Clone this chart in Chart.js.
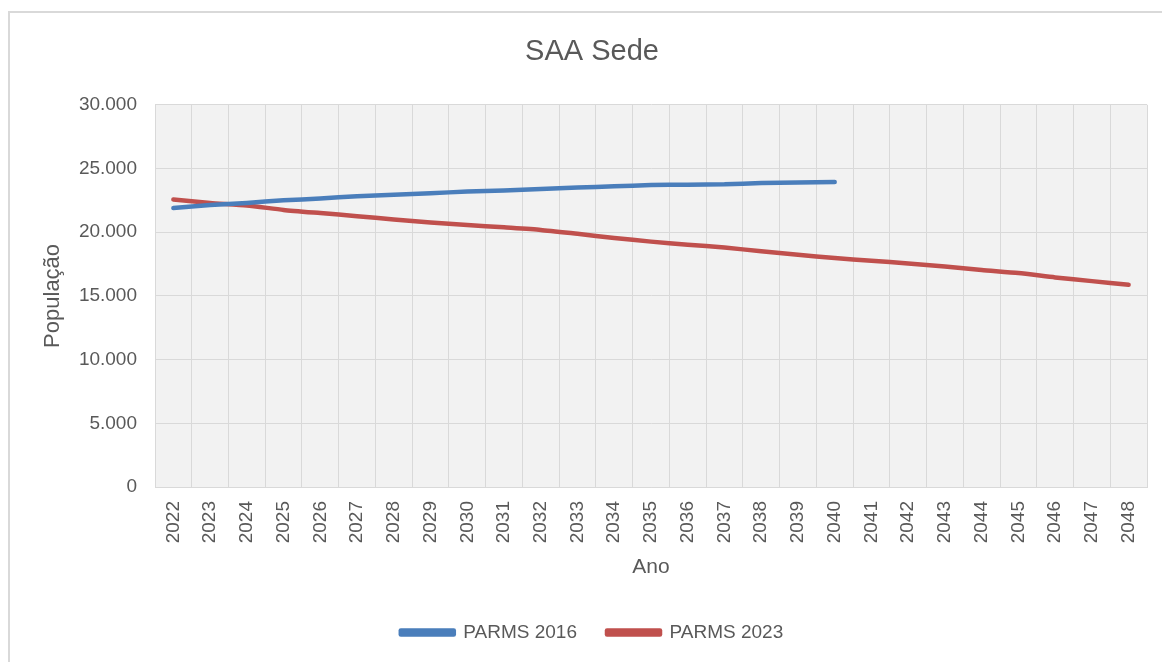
<!DOCTYPE html>
<html>
<head>
<meta charset="utf-8">
<script src="https://cdn.jsdelivr.net/npm/chart.js@4/dist/chart.umd.min.js"></script>
<style>
  html, body { margin: 0; padding: 0; background: #fff; }
  #wrap { width: 1162px; height: 662px; }
</style>
</head>
<body>
<div id="wrap"><canvas id="chart" width="1162" height="662"></canvas></div>
<script>
// --- data ---
const years = ['2022','2023','2024','2025','2026','2027','2028','2029','2030','2031','2032','2033','2034',
  '2035','2036','2037','2038','2039','2040','2041','2042','2043','2044','2045','2046','2047','2048'];
const parms2016 = [21900, 22130, 22300, 22500, 22650, 22830, 22940, 23050, 23200, 23280, 23400, 23500,
  23600, 23700, 23730, 23760, 23860, 23900, 23940];
const parms2023 = [22570, 22300, 22100, 21750, 21500, 21260, 21000, 20760, 20570, 20380, 20180, 19870,
  19550, 19260, 19020, 18800, 18500, 18230, 17970, 17760, 17550, 17310, 17030, 16790, 16450, 16160, 15870];
const yTicks = [0, 5000, 10000, 15000, 20000, 25000, 30000];

const txt = '#595959';
const sans = '"Liberation Sans", Arial, sans-serif';
const fmt = v => String(v).replace(/\B(?=(\d{3})+(?!\d))/g, '.');

// white page, light frame and grey plot area
const backdrop = {
    id: 'backdrop',
    beforeDraw(chart) {
        const { ctx, chartArea: a } = chart;
        ctx.save();
        ctx.fillStyle = '#fff';
        ctx.fillRect(0, 0, chart.width, chart.height);
        ctx.strokeStyle = '#d9d9d9';
        ctx.lineWidth = 2;
        ctx.strokeRect(9, 12, chart.width + 20, chart.height + 20);
        ctx.fillStyle = '#f2f2f2';
        ctx.fillRect(a.left, a.top, a.right - a.left, a.bottom - a.top);
        ctx.restore();
    }
};

new Chart(document.getElementById('chart'), {
    type: 'line',
    data: {
        labels: years,
        datasets: [
            { label: 'PARMS 2016', data: parms2016, borderColor: '#4a7ebb', backgroundColor: '#4a7ebb' },
            { label: 'PARMS 2023', data: parms2023, borderColor: '#c0504d', backgroundColor: '#c0504d' }
        ]
    },
    options: {
        responsive: false,
        animation: false,
        layout: { padding: { left: 37, right: 15, top: 12, bottom: 10 } },
        elements: {
            line: { borderWidth: 4.5, tension: 0.2, borderCapStyle: 'round', borderJoinStyle: 'round' },
            point: { radius: 0, hoverRadius: 0 }
        },
        plugins: {
            title: {
                display: true,
                text: 'SAA Sede',
                color: txt,
                font: { family: sans, size: 29, weight: 'normal' },
                padding: { top: 23, bottom: 35 }
            },
            legend: {
                position: 'bottom',
                labels: {
                    color: txt,
                    font: { family: sans, size: 19 },
                    boxWidth: 53,
                    boxHeight: 4,
                    padding: 30
                }
            },
            tooltip: { enabled: false }
        },
        scales: {
            x: {
                offset: true,
                grid: { offset: true, color: '#d9d9d9', drawTicks: false },
                border: { color: '#d9d9d9' },
                ticks: {
                    color: txt,
                    font: { family: sans, size: 19 },
                    minRotation: 90,
                    maxRotation: 90,
                    padding: 14,
                    autoSkip: false
                },
                title: {
                    display: true,
                    text: 'Ano',
                    color: txt,
                    font: { family: sans, size: 21 },
                    padding: { top: 0, bottom: 13 }
                },
                afterFit(s) {
                    s.height = 106;
                    s.paddingLeft = 0;
                    s.paddingRight = 0;
                }
            },
            y: {
                min: 0,
                max: 30000,
                afterBuildTicks(s) { s.ticks = yTicks.map(v => ({ value: v })); },
                grid: { color: '#d9d9d9', drawTicks: false },
                border: { color: '#d9d9d9' },
                ticks: {
                    color: txt,
                    font: { family: sans, size: 19 },
                    padding: 18,
                    callback: v => fmt(v)
                },
                title: {
                    display: true,
                    text: 'População',
                    color: txt,
                    font: { family: sans, size: 22 },
                    padding: { top: 3, bottom: 0 }
                },
                afterFit(s) { s.width = 118; }
            }
        }
    },
    plugins: [backdrop]
});
</script>
</body>
</html>
